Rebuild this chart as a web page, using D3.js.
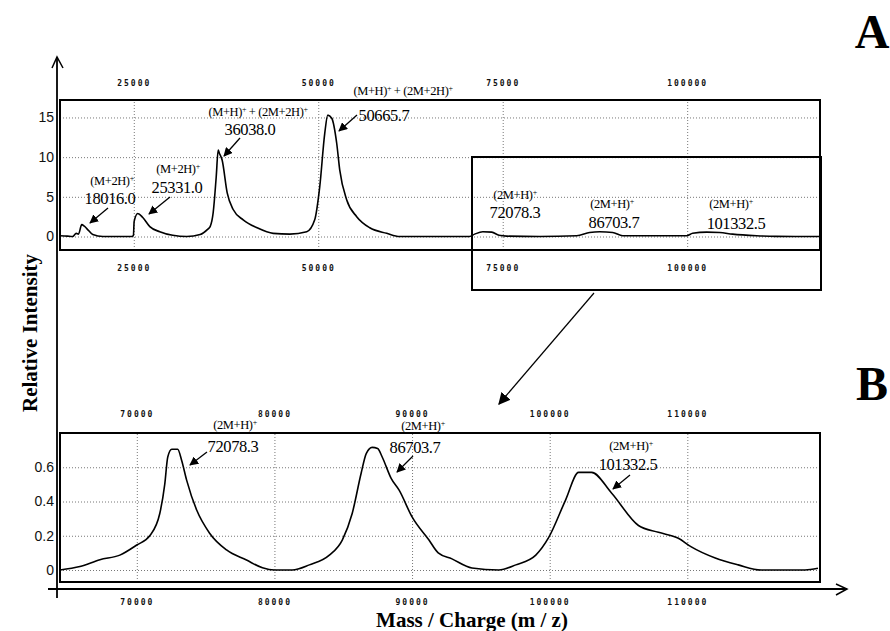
<!DOCTYPE html>
<html><head><meta charset="utf-8">
<script src="https://cdn.jsdelivr.net/npm/d3@7"></script>
<style>body{margin:0;background:#fff}svg{display:block}</style>
</head><body>
<script>
// ---------- data ----------
const massA = [15000,16000,16700,17200,17500,17950,18300,18630,19440,20800,24700,24950,25050,25540,26220,27170,28520,30280,32180,34000,35000,35350,35760,36170,36440,36600,36980,37660,38470,39830,41720,43890,46140,48440,49520,50200,50880,51290,51830,52500,52910,53860,55210,56980,59280,61040,70500,71200,72300,73510,74500,75540,80010,85020,86780,88140,89900,91260,99930,100740,102640,104400,106160,109410,112000,118000];
const intensityA = [0.1,0.05,0.0,0.4,0.3,1.5,1.3,1.0,0.25,0.0,0.0,0.1,1.9,2.9,2.4,1.25,0.6,0.15,0.0,0.25,0.9,1.25,3.0,7.5,10.9,10.5,9.6,5.5,3.4,2.1,1.1,0.4,0.3,0.6,2.1,6.25,13.0,15.3,14.9,11.75,8.4,4.6,2.5,1.1,0.4,0.0,0.0,0.3,0.6,0.55,0.15,0.05,0.0,0.1,0.5,0.6,0.5,0.1,0.1,0.4,0.55,0.5,0.3,0.1,0.02,0.0];
const massB = [64420,65870,67320,68770,70000,70940,71670,72030,72250,72540,72970,73260,73620,74350,75290,76520,77970,79130,80000,81300,82540,83990,84930,85650,86300,86670,87100,87500,87830,88480,89060,90000,91230,91900,92900,94350,96300,97540,98990,99930,101160,102100,103040,104490,106450,107900,109350,110290,112030,113700,115360,118550,119490];
const intensityB = [0.0,0.02,0.06,0.087,0.146,0.2,0.33,0.5,0.66,0.705,0.705,0.64,0.525,0.35,0.215,0.117,0.058,0.013,0.0,0.0,0.03,0.087,0.175,0.33,0.565,0.68,0.716,0.71,0.66,0.535,0.466,0.31,0.175,0.1,0.065,0.012,0.0,0.03,0.087,0.19,0.41,0.57,0.57,0.45,0.26,0.22,0.185,0.135,0.07,0.03,0.0,0.0,0.01];
const xTicksA = [25000,50000,75000,100000];
const yTicksA = [0,5,10,15];
const xTicksB = [70000,80000,90000,100000,110000];
const yTicksB = [0,0.2,0.4,0.6];
const ionLabelsA = ["(M+2H)^+","(M+2H)^+","(M+H)^+ + (2M+2H)^+","(M+H)^+ + (2M+2H)^+","(2M+H)^+","(2M+H)^+","(2M+H)^+"];
const ionValuesA = ["18016.0","25331.0","36038.0","50665.7","72078.3","86703.7","101332.5"];
const ionLabelsB = ["(2M+H)^+","(2M+H)^+","(2M+H)^+"];
const ionValuesB = ["72078.3","86703.7","101332.5"];
const yTitle = "Relative Intensity";
const xTitle = "Mass / Charge (m / z)";

// ---------- layout (pixel placement of annotations) ----------
// [labelX, labelBaseline, valueX, valueBaseline, arrowTailX, arrowTailY, arrowTipX, arrowTipY]
const annA = [
  [112,185,110,204,108,208,90,223],
  [178,173,177,193,170,197,149,214],
  [258,116,250,135,240,138,224,156],
  [403,95,384,121,357,115,339,131],
  [515,199,515,218],
  [612,208,614,228],
  [731,208,736,229]
];
const annB = [
  [235,429,233,452,207,452,190,465],
  [423,430,415,453,413,456,397,472],
  [631,450,628,470,630,475,613,489]
];

const W = 890, H = 631;
const svg = d3.select("body").append("svg").attr("width",W).attr("height",H);
svg.append("rect").attr("width",W).attr("height",H).attr("fill","#fff");

const defs = svg.append("defs");
defs.append("marker").attr("id","ah").attr("viewBox","0 0 10 10").attr("refX",9).attr("refY",5)
  .attr("markerWidth",9).attr("markerHeight",9).attr("markerUnits","userSpaceOnUse").attr("orient","auto")
  .append("path").attr("d","M0,0 L10,5 L0,10 Z").attr("fill","#000");
defs.append("marker").attr("id","ah2").attr("viewBox","0 0 10 10").attr("refX",9).attr("refY",5)
  .attr("markerWidth",12).attr("markerHeight",12).attr("markerUnits","userSpaceOnUse").attr("orient","auto")
  .append("path").attr("d","M0,0 L10,5 L0,10 Z").attr("fill","#000");

const xA = d3.scaleLinear().domain([15000,118000]).range([60,820]);
const yA = d3.scaleLinear().domain([-1.7,17.2]).range([250,100]);
const xB = d3.scaleLinear().domain([64420,119640]).range([60,820]);
const yB = d3.scaleLinear().domain([-0.07,0.8]).range([582,433]);

const tickFont = "'DejaVu Sans Mono', monospace";
function grid(x, y, xt, yt) {
  const [x0,x1] = x.range(), [y0,y1] = y.range();
  const g = svg.append("g");
  g.append("g").attr("transform",`translate(0,${y0})`)
    .call(d3.axisBottom(x).tickValues(xt).tickSize(-(y0-y1)).tickFormat(""))
    .call(s=>s.select(".domain").remove())
    .call(s=>s.selectAll("line").attr("stroke","#777").attr("stroke-dasharray","1,2"));
  g.append("g").attr("transform",`translate(${x0},0)`)
    .call(d3.axisLeft(y).tickValues(yt).tickSize(-(x1-x0)).tickFormat(""))
    .call(s=>s.select(".domain").remove())
    .call(s=>s.selectAll("line").attr("stroke","#777").attr("stroke-dasharray","1,2"));
}
function yLabels(y, yt) {
  svg.append("g").attr("transform","translate(54,0)")
    .call(d3.axisLeft(y).tickValues(yt).tickSize(0).tickPadding(0).tickFormat(d=>String(d)))
    .call(s=>s.select(".domain").remove())
    .call(s=>s.selectAll("text").attr("font-family","'Liberation Sans', Arial, sans-serif")
       .attr("font-size",14).attr("fill","#111"));
}
function xLabels(x, xt, yPos) {
  svg.append("g").attr("transform",`translate(0,${yPos})`)
    .call(d3.axisBottom(x).tickValues(xt).tickSize(0).tickPadding(0).tickFormat(d=>String(d)))
    .call(s=>s.select(".domain").remove())
    .call(s=>s.selectAll("text").attr("dy","0.35em").attr("font-family",tickFont).attr("font-weight","bold")
       .attr("font-size",8).attr("letter-spacing","2px").attr("fill","#111"));
}
function ionText(str, x, y, size) {
  const t = svg.append("text").attr("x",x).attr("y",y).attr("text-anchor","middle")
    .attr("font-family","'Liberation Serif', 'Times New Roman', serif").attr("font-size",size)
    .attr("letter-spacing","-0.4px").attr("fill","#000");
  const parts = str.split("^+");
  parts.forEach((part,i)=>{
    if (part.length) t.append("tspan").attr("dy", i > 0 ? 4 : 0).text(part);
    if (i < parts.length-1) t.append("tspan").attr("dy",-4).attr("font-size",8).text("+");
  });
  return t;
}
function arrow(a) {
  if (a.length < 8) return;
  svg.append("line").attr("x1",a[4]).attr("y1",a[5]).attr("x2",a[6]).attr("y2",a[7])
    .attr("stroke","#000").attr("stroke-width",1.3).attr("marker-end","url(#ah)");
}

const curve = d3.curveMonotoneX;

// ----- panel A -----
grid(xA, yA, xTicksA, yTicksA);
svg.append("path").datum(massA.map((m,i)=>[m,intensityA[i]]))
  .attr("d", d3.line().curve(curve).x(d=>xA(d[0])).y(d=>yA(d[1])))
  .attr("fill","none").attr("stroke","#000").attr("stroke-width",1.6);
svg.append("rect").attr("x",60).attr("y",100).attr("width",760).attr("height",150)
  .attr("fill","none").attr("stroke","#000").attr("stroke-width",2);
yLabels(yA, yTicksA);
xLabels(xA, xTicksA, 83);
xLabels(xA, xTicksA, 268);
annA.forEach((a,i)=>{
  ionText(ionLabelsA[i], a[0], a[1], 12.5);
  ionText(ionValuesA[i], a[2], a[3], 16.5);
  arrow(a);
});

// inset highlight box and zoom arrow
svg.append("rect").attr("x",472).attr("y",157).attr("width",349).attr("height",133)
  .attr("fill","none").attr("stroke","#000").attr("stroke-width",2);
svg.append("line").attr("x1",594).attr("y1",293).attr("x2",499).attr("y2",404)
  .attr("stroke","#000").attr("stroke-width",1.2).attr("marker-end","url(#ah2)");

// ----- panel B -----
grid(xB, yB, xTicksB, yTicksB);
svg.append("path").datum(massB.map((m,i)=>[m,intensityB[i]]))
  .attr("d", d3.line().curve(curve).x(d=>xB(d[0])).y(d=>yB(d[1])))
  .attr("fill","none").attr("stroke","#000").attr("stroke-width",1.6);
svg.append("rect").attr("x",60).attr("y",433).attr("width",760).attr("height",149)
  .attr("fill","none").attr("stroke","#000").attr("stroke-width",2);
yLabels(yB, yTicksB);
xLabels(xB, xTicksB, 414);
xLabels(xB, xTicksB, 602);
annB.forEach((a,i)=>{
  ionText(ionLabelsB[i], a[0], a[1], 12.5);
  ionText(ionValuesB[i], a[2], a[3], 16.5);
  arrow(a);
});

// ----- main axes -----
svg.append("line").attr("x1",57).attr("y1",598).attr("x2",57).attr("y2",57)
  .attr("stroke","#000").attr("stroke-width",1.8);
svg.append("path").attr("d","M52,68 L57,57 L63,68").attr("fill","none").attr("stroke","#000").attr("stroke-width",1.5);
svg.append("line").attr("x1",48).attr("y1",589).attr("x2",847).attr("y2",589)
  .attr("stroke","#000").attr("stroke-width",1.8);
svg.append("path").attr("d","M836,584 L847,589 L836,595").attr("fill","none").attr("stroke","#000").attr("stroke-width",1.5);

// titles
svg.append("text").attr("transform","translate(37,333) rotate(-90)").attr("text-anchor","middle")
  .attr("font-family","'Liberation Serif', 'Times New Roman', serif").attr("font-weight","bold")
  .attr("font-size",21).text(yTitle);
svg.append("text").attr("x",472).attr("y",627).attr("text-anchor","middle")
  .attr("font-family","'Liberation Serif', 'Times New Roman', serif").attr("font-weight","bold")
  .attr("font-size",21).text(xTitle);
svg.append("text").attr("x",872).attr("y",48).attr("text-anchor","middle")
  .attr("font-family","'Liberation Serif', 'Times New Roman', serif").attr("font-weight","bold")
  .attr("font-size",48).text("A");
svg.append("text").attr("x",872).attr("y",400).attr("text-anchor","middle")
  .attr("font-family","'Liberation Serif', 'Times New Roman', serif").attr("font-weight","bold")
  .attr("font-size",48).text("B");
</script>
</body></html>
